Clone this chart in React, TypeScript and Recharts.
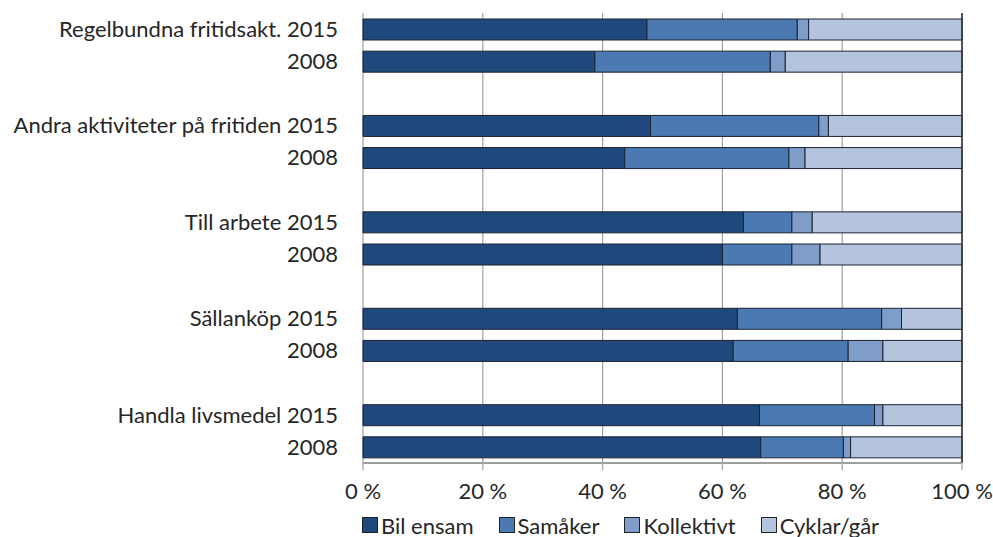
import React from 'react';
import { BarChart, Bar, XAxis, YAxis, CartesianGrid, Legend, ReferenceLine } from 'recharts';

// row labels, top to bottom ('' = spacer row between groups)
const rowLabels = [
  'Regelbundna fritidsakt. 2015', '2008', '',
  'Andra aktiviteter på fritiden 2015', '2008', '',
  'Till arbete 2015', '2008', '',
  'Sällanköp 2015', '2008', '',
  'Handla livsmedel 2015', '2008',
];

// values in % for the 10 real rows, same order as rowLabels without spacers
const bilEnsam = [47.4, 38.7, 48.0, 43.7, 63.5, 60.0, 62.5, 61.8, 66.2, 66.4];
const samaker = [25.1, 29.3, 28.1, 27.4, 8.1, 11.6, 24.1, 19.2, 19.2, 13.8];
const kollektivt = [1.9, 2.5, 1.6, 2.7, 3.4, 4.7, 3.3, 5.8, 1.4, 1.2];
const cyklarGar = [25.6, 29.5, 22.3, 26.2, 25.0, 23.7, 10.1, 13.2, 13.2, 18.6];

const seriesNames = ['Bil ensam', 'Samåker', 'Kollektivt', 'Cyklar/går'];
const seriesColors = ['#1f497d', '#4a7ab1', '#7e9dc9', '#b5c4de'];
const xTicks = [0, 20, 40, 60, 80, 100];
const rowTicks = Array.from({ length: rowLabels.length + 1 }, (_, i) => i);

let k = 0;
const data = rowLabels.map((label) => {
  if (label === '') return { label, b: null, s: null, k: null, c: null };
  const row = { label, b: bilEnsam[k], s: samaker[k], k: kollektivt[k], c: cyklarGar[k] };
  k++;
  return row;
});

const keys = ['b', 's', 'k', 'c'];
const font = 'Lato, "Liberation Sans", sans-serif';
const textColor = '#262626';

const renderLegend = () => (
  <div style={{ display: 'flex', alignItems: 'center', height: 24, fontFamily: font, fontSize: 22, color: textColor }}>
    {seriesNames.map((name, i) => (
      <div key={name} style={{ display: 'flex', alignItems: 'center', marginRight: 25 }}>
        <span style={{ display: 'inline-block', width: 14, height: 14, background: seriesColors[i], border: '1px solid #222', marginRight: 3 }} />
        {name}
      </div>
    ))}
  </div>
);

export default function App() {
  return (
    <div style={{ position: 'absolute', left: 0, top: 0, background: '#fff' }}>
      <BarChart
        width={993}
        height={537}
        data={data}
        layout="vertical"
        barSize={21}
        margin={{ top: 13, right: 31, bottom: 2, left: 0 }}
      >
        <CartesianGrid horizontal={false} stroke="#a0a0a0" strokeWidth={1.2} />
        <XAxis
          type="number"
          domain={[0, 100]}
          ticks={xTicks}
          tickFormatter={(v) => `${v} %`}
          axisLine={{ stroke: '#b0b0b0', strokeWidth: 1.5 }}
          tickLine={{ stroke: '#b0b0b0', strokeWidth: 1.5 }}
          tickSize={7}
          tickMargin={13}
          height={48}
          tick={{ fill: textColor, fontSize: 22, fontFamily: font }}
        />
        <YAxis
          yAxisId="grid"
          type="number"
          domain={[0, rowLabels.length]}
          ticks={rowTicks}
          reversed
          width={0}
          tickSize={8}
          tickFormatter={() => ''}
          axisLine={{ stroke: '#a8a8a8', strokeWidth: 1.5 }}
          tickLine={{ stroke: '#a8a8a8', strokeWidth: 1.5 }}
        />
        <YAxis
          type="category"
          dataKey="label"
          width={363}
          axisLine={false}
          tickLine={false}
          tickSize={0}
          tickMargin={25}
          interval={0}
          tick={{ fill: textColor, fontSize: 22, fontFamily: font }}
        />
        {keys.map((key, i) => (
          <Bar
            key={key}
            dataKey={key}
            name={seriesNames[i]}
            stackId="a"
            fill={seriesColors[i]}
            stroke="#1a2230"
            strokeWidth={1}
            isAnimationActive={false}
          />
        ))}
        <ReferenceLine x={100} stroke="#333" strokeWidth={1.5} />
        <ReferenceLine y={0} yAxisId="grid" stroke="#333" strokeWidth={1.5} />
        <Legend
          verticalAlign="bottom"
          align="left"
          content={renderLegend}
          wrapperStyle={{ left: 362, bottom: 0, width: 620, height: 24 }}
        />
      </BarChart>
    </div>
  );
}
